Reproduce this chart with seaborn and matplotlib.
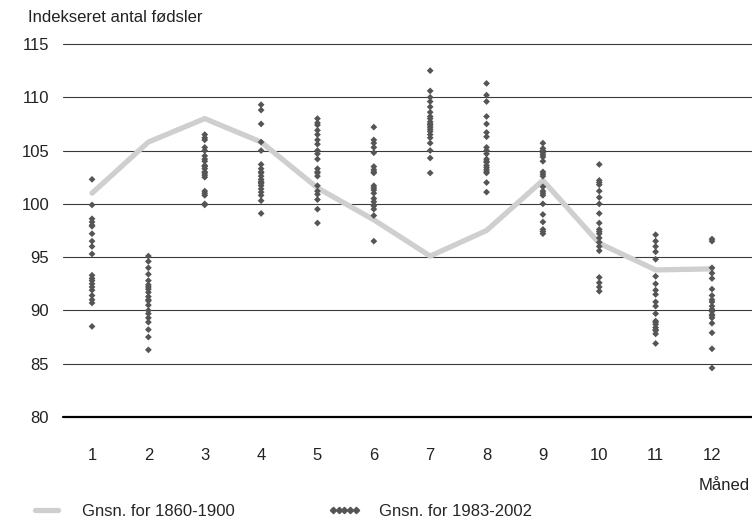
import numpy as np
import pandas as pd
import matplotlib
matplotlib.use("Agg")
import matplotlib.pyplot as plt
import seaborn as sns
from matplotlib.lines import Line2D

# Maaneder og gennemsnit 1860-1900
maaneder = list(range(1, 13))
gnsn_1860_1900 = [101.0, 105.8, 108.0, 105.8, 101.5, 98.5, 95.1, 97.5, 102.2, 96.3, 93.8, 93.9]

# Aarlige vaerdier 1983-2002 (20 aar pr. maaned), aflaest fra figuren
m1 = [102.3, 99.9, 98.6, 98.3, 97.9, 97.2, 96.5, 96.0, 95.3, 93.3, 93.0, 92.5, 92.2, 91.9, 91.4, 91.0, 90.7, 88.5, 98.0, 92.8]
m2 = [95.1, 94.6, 94.0, 93.4, 92.8, 92.4, 92.0, 91.7, 91.3, 90.9, 90.5, 90.0, 89.7, 89.3, 88.9, 88.2, 87.5, 86.3, 92.2, 91.0]
m3 = [106.5, 106.0, 105.3, 104.5, 104.2, 103.6, 103.3, 103.0, 102.7, 102.5, 101.2, 100.8, 100.0, 99.9, 105.0, 104.0, 103.5, 102.9, 101.0, 106.2]
m4 = [109.3, 108.8, 107.5, 105.8, 103.7, 103.3, 102.9, 102.6, 102.3, 102.0, 101.7, 101.4, 101.1, 100.8, 100.3, 99.1, 103.0, 102.1, 101.9, 105.0]
m5 = [108.0, 107.4, 106.9, 106.5, 106.0, 105.6, 105.0, 104.2, 103.3, 102.9, 102.6, 101.7, 101.2, 100.4, 99.5, 98.2, 107.6, 104.7, 103.0, 100.9]
m6 = [107.2, 106.0, 105.3, 104.8, 103.5, 103.2, 102.9, 101.7, 101.3, 101.0, 100.2, 99.9, 99.8, 98.9, 96.5, 103.0, 101.5, 100.5, 99.5, 105.7]
m7 = [112.5, 110.6, 110.0, 109.6, 109.1, 108.6, 108.2, 107.7, 107.4, 107.2, 107.0, 106.8, 106.5, 106.2, 105.7, 105.0, 104.3, 102.9, 107.5, 108.0]
m8 = [111.3, 110.2, 109.6, 108.2, 106.7, 106.3, 105.3, 104.7, 104.2, 103.9, 103.6, 103.4, 103.2, 102.9, 102.0, 101.1, 105.0, 103.0, 104.0, 107.5]
m9 = [105.7, 105.2, 104.8, 104.4, 104.0, 103.0, 102.6, 101.6, 101.2, 100.8, 100.0, 98.3, 97.6, 97.2, 105.0, 102.8, 101.0, 104.6, 97.4, 99.0]
m10 = [103.7, 102.2, 102.0, 101.2, 100.6, 100.0, 99.1, 98.2, 97.6, 97.2, 96.8, 96.4, 96.0, 95.6, 93.1, 92.6, 92.2, 91.8, 97.4, 101.8]
m11 = [97.1, 96.5, 96.0, 94.8, 93.2, 92.5, 91.5, 90.8, 90.4, 89.7, 89.0, 88.7, 88.4, 88.1, 87.8, 86.9, 95.5, 91.9, 88.2, 88.9]
m12 = [96.7, 96.5, 94.0, 93.5, 92.0, 91.4, 90.8, 90.4, 90.1, 89.9, 89.6, 89.3, 88.8, 87.9, 86.4, 84.6, 93.0, 91.0, 90.0, 89.5]
aar_1983_2002 = [m1, m2, m3, m4, m5, m6, m7, m8, m9, m10, m11, m12]

y_ticks = [80, 85, 90, 95, 100, 105, 110, 115]


def main():
    sns.set_style("white")
    plt.rcParams['font.family'] = ['Liberation Sans', 'DejaVu Sans']
    fs = 12

    df_linje = pd.DataFrame({'maaned': maaneder, 'indeks': gnsn_1860_1900})
    df_punkter = pd.DataFrame(
        [(m, v) for m, vals in zip(maaneder, aar_1983_2002) for v in vals],
        columns=['maaned', 'indeks'])

    fig = plt.figure(figsize=(7.52, 5.17), dpi=100)
    ax = fig.add_axes([63 / 752, 1 - 417 / 517, 1 - 63 / 752, (417 - 44) / 517])

    for t in y_ticks[1:]:
        ax.axhline(t, color='#3a3a3a', lw=0.8, zorder=0, clip_on=False)
    ax.axhline(80, color='black', lw=1.6, zorder=0, clip_on=False)

    sns.lineplot(data=df_linje, x='maaned', y='indeks', ax=ax, color='#cfcfcf',
                 lw=3.8, zorder=2, legend=False)
    sns.scatterplot(data=df_punkter, x='maaned', y='indeks', ax=ax, marker='D',
                    s=12, color='#555555', edgecolor='none', zorder=3, legend=False)

    ax.set_xlim(0.485, 12.71)
    ax.set_ylim(80, 115)
    ax.set_xticks(maaneder)
    ax.set_yticks(y_ticks)
    ax.tick_params(axis='both', length=0, labelsize=fs, colors='#222222')
    ax.tick_params(axis='x', pad=22)
    ax.tick_params(axis='y', pad=10)
    ax.set_xlabel('')
    ax.set_ylabel('')
    for s in ax.spines.values():
        s.set_visible(False)

    fig.text(28 / 752, 1 - 18 / 517, 'Indekseret antal fødsler', fontsize=fs,
             color='#222222', va='center', ha='left')
    fig.text(750 / 752, 1 - 485 / 517, 'Måned', fontsize=fs,
             color='#222222', va='center', ha='right')

    handles = [
        Line2D([], [], color='#cfcfcf', lw=3.8),
        Line2D([], [], color='#555555', marker='D', ms=3.2, ls='none'),
    ]
    fig.legend(handles, ['Gnsn. for 1860-1900', 'Gnsn. for 1983-2002'],
               loc='center left', bbox_to_anchor=(30 / 752, 1 - 511 / 517),
               ncol=2, frameon=False, fontsize=fs, numpoints=5,
               handlelength=2.0, handletextpad=1.1, columnspacing=5.6,
               borderaxespad=0, borderpad=0)

    fig.savefig('out.png', dpi=100)
    plt.close(fig)


if __name__ == "__main__":
    main()
